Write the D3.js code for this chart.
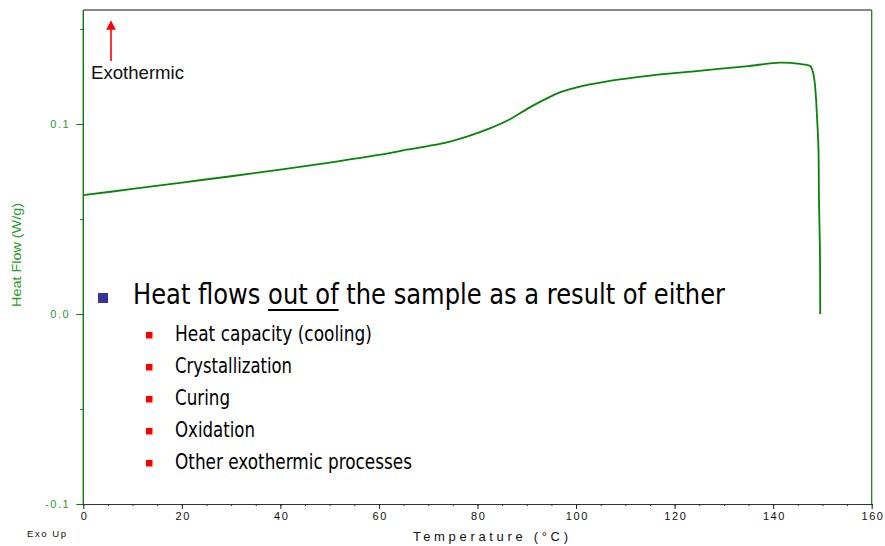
<!DOCTYPE html>
<html>
<head>
<meta charset="utf-8">
<script src="https://cdn.jsdelivr.net/npm/d3@7"></script>
<style>
  html, body { margin: 0; padding: 0; background: #fff; }
  svg { display: block; }
</style>
</head>
<body>
<svg id="chart" width="885" height="546"></svg>
<script>
// DSC cooling trace: temperature (°C) and heat flow (W/g)
const temperature = [0, 10, 20, 30, 40, 50, 60, 66, 70, 74, 78, 82.5, 86.6, 90.7, 94.7, 96.7, 98.8,
  102.8, 108.9, 115, 125, 135, 141.4, 145.4, 147.5, 148, 148.45, 148.9, 149.2, 149.3, 149.5, 149.55];
const heatFlow = [0.0626, 0.0658, 0.0692, 0.0725, 0.0760, 0.0797, 0.0837, 0.0866, 0.0884, 0.0905,
  0.0935, 0.0977, 0.1025, 0.1089, 0.1143, 0.1166, 0.1183, 0.1208, 0.1235, 0.1255, 0.1280, 0.1305,
  0.1323, 0.1316, 0.1305, 0.1280, 0.1215, 0.1040, 0.0863, 0.0600, 0.0337, 0.0];

const xMajorTicks = [0, 20, 40, 60, 80, 100, 120, 140, 160];
const yMajorTicks = [-0.1, 0.0, 0.1];
const yTickLabels = ["-0.1", "0.0", "0.1"];

const mainPoint = "Heat flows out of the sample as a result of either";
const underlined = "out of";
const subPoints = ["Heat capacity (cooling)", "Crystallization", "Curing", "Oxidation", "Other exothermic processes"];
const subPointWidths = [197, 117, 55, 80, 237];

const svg = d3.select("#chart");
const plotLeft = 83.3, plotRight = 871.7, plotTop = 10, plotBottom = 504;

const x = d3.scaleLinear().domain([0, 160]).range([plotLeft, plotRight]);
const y = d3.scaleLinear().domain([-0.1, 0.16]).range([plotBottom, plotTop]);

const axisFont = "'Liberation Sans', Arial, sans-serif";
const green = "#0a7d0a";
const labelGreen = "#2a9a2a";

// frame: black top edge, green right edge
svg.append("line").attr("x1", plotLeft).attr("x2", plotRight).attr("y1", plotTop).attr("y2", plotTop)
  .attr("stroke", "#111").attr("stroke-width", 1);
svg.append("line").attr("x1", plotRight).attr("x2", plotRight).attr("y1", plotTop).attr("y2", plotBottom)
  .attr("stroke", green).attr("stroke-width", 1.2);

// x axis: minor ticks every 5, major every 20
const xMinor = d3.axisBottom(x).tickValues(d3.range(0, 161, 5)).tickSize(2).tickFormat("");
svg.append("g").attr("transform", `translate(0,${plotBottom})`).call(xMinor)
  .call(g => g.select(".domain").remove())
  .selectAll("line").attr("stroke", "#222");
const xAxis = d3.axisBottom(x).tickValues(xMajorTicks).tickSize(5).tickSizeOuter(0).tickPadding(3)
  .tickFormat(d3.format("d"));
svg.append("g").attr("transform", `translate(0,${plotBottom})`).call(xAxis)
  .call(g => g.select(".domain").attr("stroke", "#333").attr("stroke-width", 1.2))
  .call(g => g.selectAll("line").attr("stroke", "#222"))
  .call(g => g.selectAll("text").attr("font-family", axisFont).attr("font-size", 11)
    .attr("letter-spacing", "1.6px").attr("fill", "#111").attr("dx", "0.8px"));

// y axis: minor ticks every 0.05, major every 0.1
const yMinor = d3.axisLeft(y).tickValues(d3.range(-0.1, 0.1501, 0.05)).tickSize(3).tickFormat("");
svg.append("g").attr("transform", `translate(${plotLeft},0)`).call(yMinor)
  .call(g => g.select(".domain").remove())
  .selectAll("line").attr("stroke", green);
const yAxis = d3.axisLeft(y).tickValues(yMajorTicks).tickSize(7).tickSizeOuter(0).tickPadding(6)
  .tickFormat((d, i) => yTickLabels[i]);
svg.append("g").attr("transform", `translate(${plotLeft},0)`).call(yAxis)
  .call(g => g.select(".domain").attr("stroke", green).attr("stroke-width", 1.4)
    .attr("d", `M0,${plotTop}V${plotBottom}`))
  .call(g => g.selectAll("line").attr("stroke", green))
  .call(g => g.selectAll("text").attr("font-family", axisFont).attr("font-size", 11)
    .attr("letter-spacing", "1.6px").attr("fill", labelGreen));

// axis titles
svg.append("text").attr("x", 413).attr("y", 541).attr("textLength", 155)
  .attr("lengthAdjust", "spacing")
  .attr("font-family", axisFont).attr("font-size", 13).attr("fill", "#111")
  .text("Temperature (°C)");
svg.append("text").attr("x", 27).attr("y", 537).attr("textLength", 39)
  .attr("lengthAdjust", "spacing")
  .attr("font-family", axisFont).attr("font-size", 9.5).attr("fill", "#111")
  .text("Exo Up");
svg.append("text")
  .attr("transform", "translate(21,307) rotate(-90)")
  .attr("textLength", 104).attr("lengthAdjust", "spacingAndGlyphs")
  .attr("font-family", axisFont).attr("font-size", 13).attr("fill", labelGreen)
  .text("Heat Flow (W/g)");

// heat-flow curve
const points = temperature.map((t, i) => [t, heatFlow[i]]);
const line = d3.line().x(d => x(d[0])).y(d => y(d[1])).curve(d3.curveCatmullRom.alpha(0.5));
svg.append("path").datum(points).attr("d", line)
  .attr("fill", "none").attr("stroke", "#078407").attr("stroke-width", 1.8)
  .attr("stroke-linejoin", "round");

// exotherm direction marker
svg.append("defs").append("marker").attr("id", "head")
  .attr("viewBox", "0 0 10 10").attr("refX", 5).attr("refY", 5)
  .attr("markerWidth", 6).attr("markerHeight", 7).attr("orient", "auto")
  .append("path").attr("d", "M0,0L10,5L0,10Z").attr("fill", "#ff0000");
svg.append("line").attr("x1", 111).attr("x2", 111).attr("y1", 61).attr("y2", 25)
  .attr("stroke", "#ff0000").attr("stroke-width", 1.6).attr("marker-end", "url(#head)");
svg.append("text").attr("x", 91).attr("y", 79)
  .attr("textLength", 93).attr("lengthAdjust", "spacingAndGlyphs")
  .attr("font-family", axisFont).attr("font-size", 17.5).attr("fill", "#111")
  .text("Exothermic");

// bullet list
const bulletFont = "'DejaVu Sans Condensed', 'DejaVu Sans', sans-serif";
svg.append("rect").attr("x", 98).attr("y", 293).attr("width", 10).attr("height", 10)
  .attr("fill", "#333399");
const main = svg.append("text").attr("x", 133).attr("y", 304)
  .attr("textLength", 592).attr("lengthAdjust", "spacingAndGlyphs")
  .attr("font-family", bulletFont).attr("font-size", 29).attr("fill", "#000")
  .text(mainPoint);
// underline beneath "out of"
const uStart = mainPoint.indexOf(underlined);
const uEnd = uStart + underlined.length - 1;
const node = main.node();
const ux0 = node.getStartPositionOfChar(uStart).x;
const ux1 = node.getEndPositionOfChar(uEnd).x;
svg.append("line").attr("x1", ux0).attr("x2", ux1).attr("y1", 310).attr("y2", 310)
  .attr("stroke", "#000").attr("stroke-width", 1.8);

const subY = d3.scaleLinear().domain([0, 4]).range([341, 469]);
subPoints.forEach((s, i) => {
  svg.append("rect").attr("x", 146).attr("y", subY(i) - 9).attr("width", 6.5).attr("height", 6.5)
    .attr("fill", "#ff0000");
  svg.append("text").attr("x", 175).attr("y", subY(i))
    .attr("textLength", subPointWidths[i]).attr("lengthAdjust", "spacingAndGlyphs")
    .attr("font-family", bulletFont).attr("font-size", 21).attr("fill", "#000")
    .text(s);
});
</script>
</body>
</html>
